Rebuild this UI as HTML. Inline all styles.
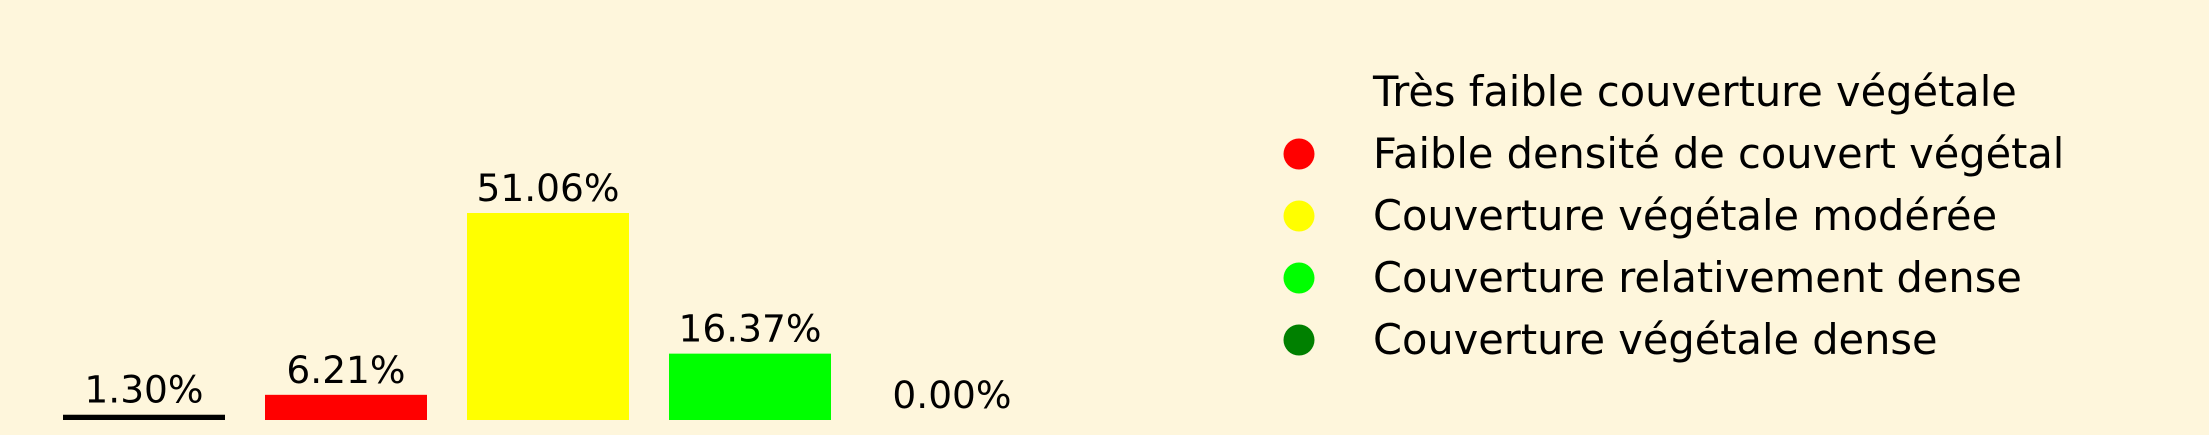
<!DOCTYPE html>
<html><head><meta charset="utf-8"><style>
html,body{margin:0;padding:0;background:#fef6dc;}
svg{display:block;font-family:"DejaVu Sans","Liberation Sans",sans-serif;}
</style></head><body>
<svg id="chart" width="2209" height="435" viewBox="0 0 2209 435">
<rect width="2209" height="435" fill="#fef6dc"/>
<g id="bars"></g>
<g id="legend"></g>
</svg>
<script>
const categories = ["Très faible couverture végétale","Faible densité de couvert végétal","Couverture végétale modérée","Couverture relativement dense","Couverture végétale dense"];
const values = [1.30, 6.21, 51.06, 16.37, 0.00];
const labels = ["1.30%","6.21%","51.06%","16.37%","0.00%"];
const colors = ["#000000","#ff0000","#ffff00","#00ff00","#008000"];
const legendMarker = [false,true,true,true,true];

const NS="http://www.w3.org/2000/svg";
const baseY=420, pxPerUnit=4.054, x0=63, step=202, bw=162;
function yScale(v){return baseY - v*pxPerUnit;}
function xScale(i){return x0 + i*step;}
const gb=document.getElementById('bars');
values.forEach((v,i)=>{
  const r=document.createElementNS(NS,'rect');
  r.setAttribute('x',xScale(i));
  r.setAttribute('y',yScale(v));
  r.setAttribute('width',bw);
  r.setAttribute('height',baseY-yScale(v));
  r.setAttribute('fill',colors[i]);
  
  
  gb.appendChild(r);
  const t=document.createElementNS(NS,'text');
  t.setAttribute('x',xScale(i)+bw/2);
  t.setAttribute('y',yScale(v)-12);
  t.setAttribute('text-anchor','middle');
  t.setAttribute('font-size','37.5');
  t.setAttribute('fill','#000');
  t.textContent=labels[i];
  
  
  gb.appendChild(t);
});
const gl=document.getElementById('legend');
categories.forEach((c,i)=>{
  const cy=92+i*62;
  if(legendMarker[i]){
    const e=document.createElementNS(NS,'ellipse');
    e.setAttribute('cx',1299);e.setAttribute('cy',cy);
    e.setAttribute('rx',15.5);e.setAttribute('ry',15.5);
    e.setAttribute('fill',colors[i]);
    
    
    gl.appendChild(e);
  }
  const t=document.createElementNS(NS,'text');
  t.setAttribute('x',1373);t.setAttribute('y',cy+14);
  t.setAttribute('font-size','41.5');t.setAttribute('fill','#000');
  t.textContent=c;
  
  
  gl.appendChild(t);
});
</script>
</body></html>
